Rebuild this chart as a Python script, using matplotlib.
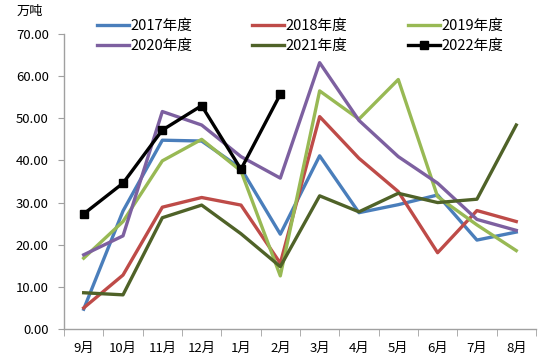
import matplotlib
matplotlib.use("Agg")
import matplotlib.pyplot as plt
from matplotlib.ticker import FixedLocator, NullFormatter

plt.rcParams['font.family'] = ['Noto Sans CJK SC', 'DejaVu Sans']

months = ["9月", "10月", "11月", "12月", "1月", "2月", "3月", "4月", "5月", "6月", "7月", "8月"]
y2017 = [4.7, 28.0, 44.8, 44.6, 38.1, 22.5, 41.1, 27.6, 29.5, 31.8, 21.1, 23.0]
y2018 = [5.0, 12.8, 28.9, 31.2, 29.4, 15.6, 50.4, 40.5, 32.6, 18.1, 28.1, 25.5]
y2019 = [16.8, 25.5, 39.9, 45.0, 37.5, 12.6, 56.5, 49.8, 59.2, 31.4, 24.7, 18.6]
y2020 = [17.6, 22.1, 51.6, 48.4, 40.9, 35.8, 63.2, 49.5, 40.9, 34.6, 26.0, 23.4]
y2021 = [8.6, 8.1, 26.4, 29.4, 22.6, 14.8, 31.6, 27.8, 32.2, 30.0, 30.8, 48.4]
y2022 = [27.3, 34.6, 47.2, 53.0, 37.9, 55.7]
yticks = [0, 10, 20, 30, 40, 50, 60, 70]

fig = plt.figure(figsize=(5.5, 3.64), dpi=100)
ax = fig.add_axes([0.1164, 0.0962, 0.858, 0.8104])

x = list(range(len(months)))
lw = 2.4
h17, = ax.plot(x, y2017, color='#4A7EBB', lw=lw, label='2017年度')
h18, = ax.plot(x, y2018, color='#BE4B48', lw=lw, label='2018年度')
h19, = ax.plot(x, y2019, color='#98B954', lw=lw, label='2019年度')
h20, = ax.plot(x, y2020, color='#7D60A0', lw=lw, label='2020年度')
h21, = ax.plot(x, y2021, color='#4F6228', lw=lw, label='2021年度')
h22, = ax.plot(list(range(len(y2022))), y2022, color='black', lw=lw, marker='s',
               markersize=6, label='2022年度')

ax.set_xlim(-0.5, len(months) - 0.5)
ax.set_ylim(0, 70)
ax.set_yticks(yticks)
ax.set_yticklabels([f"{v:.2f}" for v in yticks], fontsize=9.5)
ax.set_xticks(x)
ax.set_xticklabels(months, fontsize=9.5)
ax.tick_params(axis='x', length=0, pad=9)
ax.xaxis.set_minor_locator(FixedLocator([i - 0.5 for i in range(len(months) + 1)]))
ax.xaxis.set_minor_formatter(NullFormatter())
ax.tick_params(axis='x', which='minor', length=5, color='#A0A0A0', direction='out')
ax.tick_params(axis='y', length=4, color='#A0A0A0', direction='out', pad=7)

for s in ['top', 'right']:
    ax.spines[s].set_visible(False)
for s in ['left', 'bottom']:
    ax.spines[s].set_color('#A0A0A0')
    ax.spines[s].set_linewidth(1.0)

ax.text(-0.072, 1.075, "万吨", transform=ax.transAxes, fontsize=9.5, ha='center', va='center')

handles = [h17, h20, h18, h21, h19, h22]
ax.legend(handles=handles, labels=[h.get_label() for h in handles], ncol=3,
          loc='upper left', bbox_to_anchor=(0.07, 1.05), frameon=False,
          fontsize=10.5, handlelength=2.2, handletextpad=0.1, columnspacing=4.1,
          labelspacing=0.42, borderaxespad=0, borderpad=0)

fig.savefig("out.png", dpi=100)
